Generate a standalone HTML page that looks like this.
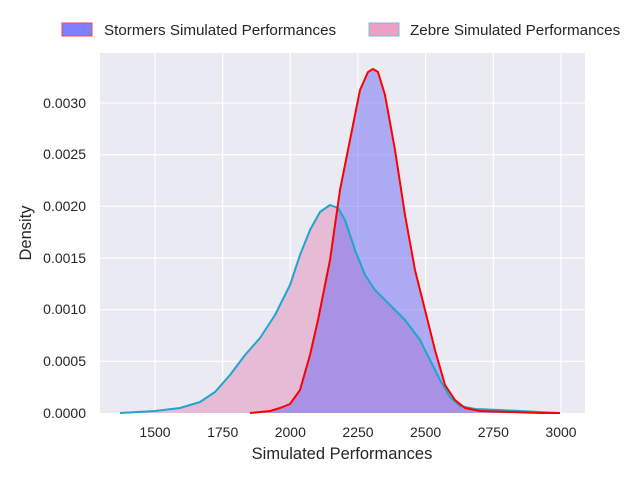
<!DOCTYPE html>
<html><head><meta charset="utf-8"><style>
body{margin:0;background:#fff;}
svg{display:block;font-family:"Liberation Sans",sans-serif;}
</style></head><body>
<svg width="640" height="480" viewBox="0 0 640 480">
<rect x="100" y="53" width="485" height="360" fill="#eaeaf2"/>
<g stroke="#fff" stroke-width="1.2">
<line x1="155" y1="53" x2="155" y2="413"/><line x1="222.7" y1="53" x2="222.7" y2="413"/><line x1="290.3" y1="53" x2="290.3" y2="413"/><line x1="358" y1="53" x2="358" y2="413"/><line x1="425.6" y1="53" x2="425.6" y2="413"/><line x1="493.3" y1="53" x2="493.3" y2="413"/><line x1="561" y1="53" x2="561" y2="413"/>
<line x1="100" y1="361.3" x2="585" y2="361.3"/><line x1="100" y1="309.7" x2="585" y2="309.7"/><line x1="100" y1="258" x2="585" y2="258"/><line x1="100" y1="206.3" x2="585" y2="206.3"/><line x1="100" y1="154.7" x2="585" y2="154.7"/><line x1="100" y1="103" x2="585" y2="103"/>
</g>
<path d="M120,413 L155,411 180,408 200,402 215,392 230,375 245,355 260,338 275,315 290,285 300,255 310,230 320,212 330,205 338,208 345,220 355,250 365,275 375,290 390,305 405,320 420,340 430,360 440,380 450,397 460,406 475,409 500,410 540,412 560,413 Z" fill="#e6bbd6"/>
<path d="M240,413 L250,413 270,411 280,408 290,404 300,390 310,355 318,320 330,260 340,190 350,140 360,90 368,72 373,69 378,72 385,95 395,150 405,215 415,270 425,310 435,350 445,385 455,400 465,408 480,411 540,413 560,413 Z" fill="rgba(108,106,242,0.5)"/>
<polyline points="120,413 155,411 180,408 200,402 215,392 230,375 245,355 260,338 275,315 290,285 300,255 310,230 320,212 330,205 338,208 345,220 355,250 365,275 375,290 390,305 405,320 420,340 430,360 440,380 450,397 460,406 475,409 500,410 540,412 560,413" fill="none" stroke="#1fa5cf" stroke-width="2" stroke-linejoin="round"/>
<polyline points="250,413 270,411 280,408 290,404 300,390 310,355 318,320 330,260 340,190 350,140 360,90 368,72 373,69 378,72 385,95 395,150 405,215 415,270 425,310 435,350 445,385 455,400 465,408 480,411 540,413 560,413" fill="none" stroke="#f00" stroke-width="2" stroke-linejoin="round"/>
<g font-size="14" fill="#262626" text-anchor="middle">
<text x="155" y="437">1500</text><text x="222.7" y="437">1750</text><text x="290.3" y="437">2000</text><text x="358" y="437">2250</text><text x="425.6" y="437">2500</text><text x="493.3" y="437">2750</text><text x="561" y="437">3000</text>
</g>
<g font-size="14" fill="#262626" text-anchor="end">
<text x="86" y="418">0.0000</text><text x="86" y="366">0.0005</text><text x="86" y="314">0.0010</text><text x="86" y="263">0.0015</text><text x="86" y="211">0.0020</text><text x="86" y="159">0.0025</text><text x="86" y="108">0.0030</text>
</g>
<text x="342" y="459" font-size="16.5" fill="#262626" text-anchor="middle">Simulated Performances</text>
<text transform="translate(31,233) rotate(-90)" font-size="16.5" fill="#262626" text-anchor="middle">Density</text>
<rect x="62" y="23" width="30" height="13" fill="#8080ff" stroke="#ff4040" stroke-width="1"/>
<text x="104" y="35" font-size="15.2" fill="#262626">Stormers Simulated Performances</text>
<rect x="369" y="23" width="30" height="13" fill="#ef9fc3" stroke="#6fc1e0" stroke-width="1"/>
<text x="410" y="35" font-size="15.2" fill="#262626">Zebre Simulated Performances</text>
</svg>
</body></html>
